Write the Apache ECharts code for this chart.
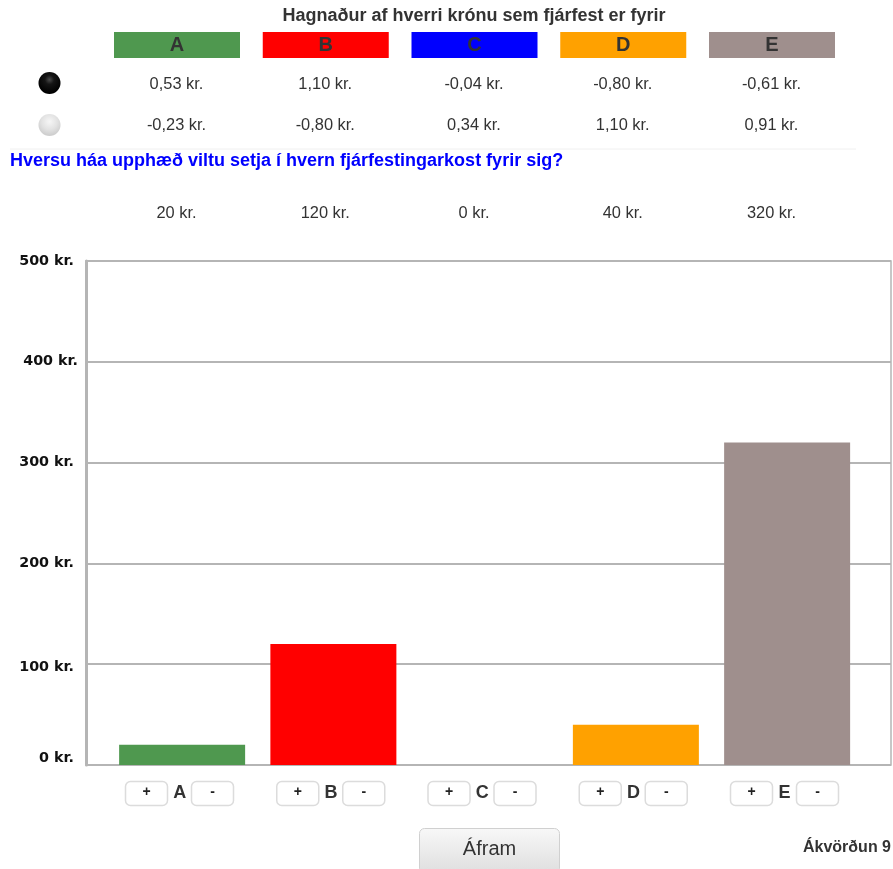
<!DOCTYPE html>
<html><head><meta charset="utf-8">
<style>html,body{margin:0;padding:0;background:#fff}#c{width:893px;height:869px}</style>
<script src="https://cdn.jsdelivr.net/npm/echarts@6/dist/echarts.min.js"></script>
</head><body><div id="c"></div>
<script>
const categories = ['A','B','C','D','E'];
const amounts = [20,120,0,40,320];
const colors = ['#4f984f','#ff0000','#0000ff','#ffa100','#9f8f8d'];
const blackRow = ['0,53 kr.','1,10 kr.','-0,04 kr.','-0,80 kr.','-0,61 kr.'];
const whiteRow = ['-0,23 kr.','-0,80 kr.','0,34 kr.','1,10 kr.','0,91 kr.'];
const title = 'Hagnaður af hverri krónu sem fjárfest er fyrir';
const question = 'Hversu háa upphæð viltu setja í hvern fjárfestingarkost fyrir sig?';
const nextLabel = 'Áfram';
const decisionLabel = 'Ákvörðun 9';

const F = '"Liberation Sans", Arial, sans-serif';
const chart = echarts.init(document.getElementById('c'), null, {renderer:'canvas'});
const headX = i => 114 + 148.75*i;
const g = [];
const txt = (x,y,text,font,fill,align) => g.push({type:'text',x,y,silent:true,style:{
  text,x:0,y:0,font,fill:fill||'#333',align:align||'center',verticalAlign:'middle'}});
txt(474,16,title,'bold 18px '+F,'#333');
categories.forEach((c,i)=>{
  const x = headX(i), cx = x+63;
  g.push({type:'rect',shape:{x,y:32,width:126,height:26},style:{fill:colors[i]}});
  txt(cx,45.5,c,'bold 20px '+F,'#333');
  txt(cx-0.5,84,blackRow[i],'16.4px '+F);
  txt(cx-0.5,125.5,whiteRow[i],'16.4px '+F);
  txt(cx-0.5,213,amounts[i]+' kr.','16.4px '+F);
  const bx = 125 + 151.25*i;
  [[bx,'+'],[bx+66,'-']].forEach(([px,t])=>{
    g.push({type:'rect',shape:{x:px+.5,y:781.5,width:42,height:24,r:5},
      style:{fill:'#fff',stroke:'#dcdcdc',lineWidth:1.5}});
    txt(px+21.5,792.5,t,'bold 14px '+F,'#222');
  });
});
const ball = (cy,stops)=>g.push({type:'circle',shape:{cx:49.5,cy,r:11},style:{fill:new echarts.graphic.RadialGradient(.5,.35,.6,stops)}});
ball(83,[{offset:0,color:'#4a4a4a'},{offset:.35,color:'#151515'},{offset:1,color:'#000'}]);
ball(125,[{offset:0,color:'#f6f6f6'},{offset:.6,color:'#e2e2e2'},{offset:1,color:'#cfcfcf'}]);
g.push({type:'line',shape:{x1:10,y1:149,x2:856,y2:149},style:{stroke:'#f0f0f0',lineWidth:1}});
txt(10,161,question,'bold 18px '+F,'#0000ff','left');
g.push({type:'rect',shape:{x:419.5,y:828.5,width:140,height:45,r:5},style:{
  fill:new echarts.graphic.LinearGradient(0,0,0,1,[{offset:0,color:'#f8f8f8'},{offset:1,color:'#dedede'}]),
  stroke:'#d0d0d0',lineWidth:1}});
txt(489.5,849,nextLabel,'20px '+F,'#333');
txt(891,848,decisionLabel,'bold 16px '+F,'#333','right');

const axisFont = {fontFamily:'"DejaVu Sans"',fontWeight:'bold',fontSize:14.3,color:'#111'};
const rich = {
  v500:{...axisFont,padding:[0,4,0,0]},
  v400:{...axisFont,padding:[0,0,2,0]},
  v300:{...axisFont,padding:[0,4,0,0]},
  v200:{...axisFont,padding:[0,4,0,0]},
  v100:{...axisFont,padding:[6,4,0,0]},
  v0:{...axisFont,padding:[0,4,14,0]}
};
chart.setOption({
  animation:false,
  graphic:g,
  grid:[
    {left:86,top:261,width:805,height:504,show:true,borderColor:'#b5b5b5',borderWidth:1.5,backgroundColor:'#fff'},
    {left:106.5,top:261,width:756.25,height:504}
  ],
  xAxis:[
    {type:'value',gridIndex:0,min:0,max:1,show:false},
    {type:'category',gridIndex:1,data:categories,
     axisLine:{show:false},axisTick:{show:false},
     axisLabel:{margin:19,padding:[0,5,0,0],fontFamily:F,fontWeight:'bold',fontSize:18,color:'#333'}}
  ],
  yAxis:[
    {type:'value',gridIndex:0,min:0,max:500,interval:100,
     axisLine:{show:true,lineStyle:{color:'#b5b5b5',width:3}},axisTick:{show:false},
     splitLine:{lineStyle:{color:'#b5b5b5',width:2}},
     axisLabel:{margin:8,formatter:v=>`{v${v}|${v} kr.}`,rich}},
    {type:'value',gridIndex:1,min:0,max:500,interval:100,show:false}
  ],
  series:[{type:'bar',xAxisIndex:1,yAxisIndex:1,barWidth:126,z:5,
    data:amounts.map((v,i)=>({value:v,itemStyle:{color:colors[i]}}))}]
});
</script></body></html>
